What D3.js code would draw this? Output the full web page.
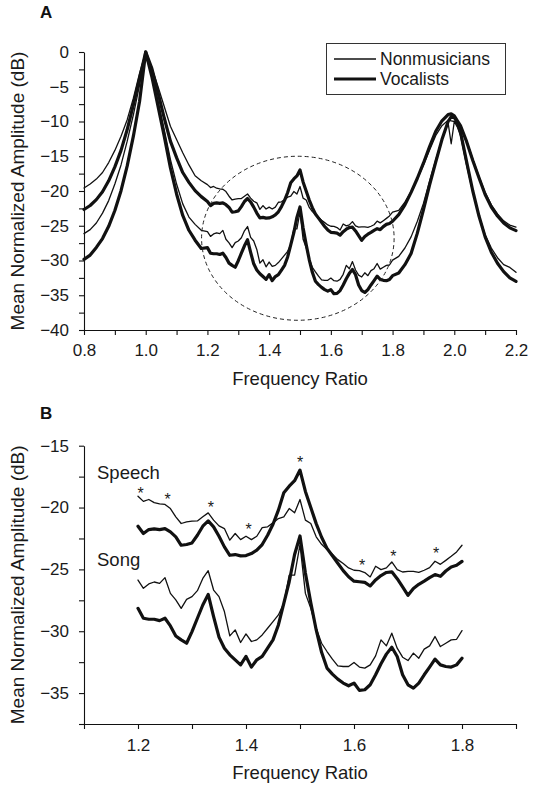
<!DOCTYPE html>
<html><head><meta charset="utf-8">
<script src="https://cdn.jsdelivr.net/npm/d3@7"></script>
<style>
html,body{margin:0;padding:0;background:#fff;}
svg{display:block;font-family:"Liberation Sans",Arial,Helvetica,sans-serif;}
</style></head>
<body>
<svg id="chart" width="533" height="786"></svg>
<script>
// ---------- DATA ----------
// Panel A outer frequencies
const freqLow = [0.80,0.82,0.84,0.86,0.88,0.90,0.92,0.94,0.96,0.98,1.00,1.02,1.04,1.06,1.08,1.10,1.12,1.14,1.16,1.18];
const freqMid = d3.range(61).map(i => +(1.20 + i*0.01).toFixed(2));
const freqHigh = [1.82,1.84,1.86,1.88,1.90,1.92,1.94,1.96,1.98,1.99,2.00,2.01,2.02,2.04,2.06,2.08,2.10,2.12,2.14,2.16,2.18,2.20];

const speechNonLow = [-19.57,-19.0,-18.29,-17.34,-15.91,-14.16,-12.11,-9.74,-6.65,-3.09,0,-2.28,-4.99,-7.84,-10.69,-12.59,-14.49,-16.25,-17.81,-18.53];
const speechVocLow = [-22.66,-22.09,-21.24,-20.1,-18.53,-16.53,-14.16,-11.16,-7.6,-3.8,0,-2.38,-5.84,-9.5,-12.83,-15.2,-17.34,-18.76,-19.95,-20.81];
const songNonLow   = [-26.13,-25.56,-24.6,-23.18,-21.38,-19.0,-16.25,-12.83,-9.03,-4.75,0,-3.09,-7.03,-11.16,-15.44,-19.0,-21.85,-23.75,-24.8,-25.65];
const songVocLow   = [-29.83,-29.22,-28.12,-26.84,-25.08,-22.8,-19.95,-16.39,-12.11,-7.13,0,-3.56,-7.84,-12.11,-16.63,-20.43,-23.52,-25.65,-27.08,-28.27];

const speechNonMid = [-19.08,-19.5,-19.35,-19.6,-19.7,-19.75,-20.08,-20.75,-21.29,-21.16,-21.1,-21.08,-20.75,-20.43,-21.02,-21.48,-21.7,-22.64,-22.1,-22.59,-22.32,-22.59,-22.32,-21.62,-21.56,-21.24,-20.89,-20.75,-20.08,-20.43,-19.35,-21.02,-21.29,-22.37,-22.97,-23.4,-23.78,-24.21,-24.53,-24.88,-25.07,-25.1,-25.26,-25.61,-24.75,-25.02,-24.88,-24.4,-25.02,-25.21,-25.16,-25.16,-25.24,-25.07,-24.86,-24.34,-24.59,-24.27,-23.94,-23.59,-23.05];
const speechVocMid = [-21.51,-22.1,-21.78,-21.72,-21.78,-21.7,-21.97,-22.37,-23.05,-22.99,-22.86,-22.24,-21.51,-21.08,-21.56,-22.32,-23.18,-23.86,-23.8,-23.91,-23.88,-23.72,-23.45,-22.99,-22.24,-21.35,-20.21,-18.81,-18.27,-17.83,-16.97,-18.7,-20.0,-21.3,-22.4,-23.3,-23.9,-24.5,-25.1,-25.6,-25.95,-26.0,-26.05,-26.34,-25.85,-25.5,-25.25,-25.2,-25.75,-26.42,-27.1,-26.55,-26.21,-25.95,-25.67,-25.42,-25.56,-25.13,-24.8,-24.67,-24.35];
const songNonMid   = [-25.86,-26.53,-26.18,-26.02,-26.13,-25.67,-26.94,-27.47,-28.15,-27.42,-27.2,-26.72,-25.73,-25.11,-26.67,-27.2,-28.41,-30.38,-29.89,-30.91,-30.22,-30.83,-30.7,-30.3,-29.76,-29.22,-28.68,-27.74,-25.46,-25.46,-23.0,-26.94,-28.15,-29.76,-30.97,-31.64,-32.26,-32.8,-32.85,-32.85,-32.53,-32.9,-32.98,-32.72,-31.99,-30.7,-31.18,-30.16,-31.37,-32.1,-32.37,-31.77,-32.18,-31.45,-31.18,-30.43,-31.24,-30.97,-30.7,-30.65,-29.95];
const songVocMid   = [-28.15,-28.95,-29.03,-29.03,-29.14,-28.95,-29.57,-30.38,-30.7,-30.97,-30.03,-28.95,-27.88,-27.02,-28.82,-30.48,-31.37,-31.91,-32.31,-32.72,-32.04,-32.9,-32.31,-32.04,-31.37,-30.7,-29.49,-27.74,-26.0,-23.8,-22.3,-25.3,-27.7,-29.9,-31.7,-32.98,-33.47,-33.87,-34.19,-34.41,-34.19,-34.78,-34.73,-34.33,-33.52,-32.63,-31.85,-31.29,-32.04,-33.52,-34.33,-34.6,-34.19,-33.52,-32.9,-32.26,-32.72,-32.85,-32.9,-32.72,-32.18];

const speechNonHigh = [-22.8,-21.6,-20.1,-18.3,-16.3,-14.1,-12.0,-10.6,-9.8,-9.9,-10.0,-10.4,-10.9,-12.8,-15.4,-17.9,-20.2,-22.0,-23.3,-24.3,-24.9,-25.2];
const speechVocHigh = [-23.4,-22.0,-20.2,-18.2,-16.0,-13.6,-11.4,-9.9,-9.0,-8.9,-9.2,-9.9,-10.6,-12.9,-15.6,-18.1,-20.5,-22.3,-23.6,-24.6,-25.3,-25.7];
const songNonHigh   = [-29.4,-28.2,-26.6,-24.4,-21.8,-18.6,-15.5,-12.6,-10.2,-13.2,-10.0,-10.8,-12.0,-16.3,-20.2,-23.5,-26.3,-28.2,-29.6,-30.6,-31.0,-31.7];
const songVocHigh   = [-31.8,-30.6,-29.0,-26.1,-22.7,-19.1,-15.8,-12.6,-10.0,-9.3,-9.4,-10.2,-11.5,-15.8,-20.0,-23.6,-26.6,-28.8,-30.4,-31.6,-32.5,-33.0];

// significance asterisks in panel B (frequency, dB)
const starFreq = [1.205,1.255,1.335,1.405,1.50,1.615,1.673,1.752];
const starDb   = [-18.55,-19.05,-19.75,-21.5,-16.1,-24.4,-23.65,-23.45];

const xTicksA = [0.8,1.0,1.2,1.4,1.6,1.8,2.0,2.2];
const yTicksA = [0,-5,-10,-15,-20,-25,-30,-35,-40];
const xTicksB = [1.2,1.4,1.6,1.8];
const yTicksB = [-15,-20,-25,-30,-35];
const legendLabels = ["Nonmusicians","Vocalists"];

// ---------- DRAW ----------
const svg = d3.select("#chart");
const THIN = 1.3, THICK = 3.2, INK = "#111";

function zip(f, v){ return f.map((d,i)=>[d, v[i]]); }
const full = (lo, mid, hi) => zip(freqLow, lo).concat(zip(freqMid, mid), zip(freqHigh, hi));

const seriesA = [
  {pts: full(speechNonLow, speechNonMid, speechNonHigh), w: THIN},
  {pts: full(songNonLow, songNonMid, songNonHigh), w: THIN},
  {pts: full(speechVocLow, speechVocMid, speechVocHigh), w: THICK},
  {pts: full(songVocLow, songVocMid, songVocHigh), w: THICK}
];
const seriesB = [
  {pts: zip(freqMid, speechNonMid), w: THIN},
  {pts: zip(freqMid, songNonMid), w: THIN},
  {pts: zip(freqMid, speechVocMid), w: THICK},
  {pts: zip(freqMid, songVocMid), w: THICK}
];

function styleAxis(g){
  g.selectAll("path.domain").attr("stroke", INK).attr("stroke-width", 1.1);
  g.selectAll(".tick line").attr("stroke", INK).attr("stroke-width", 1.1);
  g.selectAll(".tick text").attr("fill", "#1a1a1a").style("font-size","17px")
    .style("font-family",'"Liberation Sans",Arial,sans-serif');
}
const fmt1 = d3.format(".1f");
const fmtInt = d3.format("d");

function panel(opts){
  const {x, y, xMinor, xLabels, yMinor, yLabels, series, top, bottom, left, right, xPad} = opts;
  const line = d3.line().x(d=>x(d[0])).y(d=>y(d[1]));

  const gx = svg.append("g").attr("transform", `translate(0,${bottom})`)
    .call(d3.axisBottom(x).tickValues(xMinor).tickSize(5).tickPadding(xPad).tickSizeOuter(0)
      .tickFormat(d => xLabels.some(t=>Math.abs(t-d)<1e-6) ? fmt1(d) : ""));
  styleAxis(gx);
  const gy = svg.append("g").attr("transform", `translate(${left},0)`)
    .call(d3.axisLeft(y).tickValues(yMinor).tickSize(5).tickPadding(10).tickSizeOuter(0)
      .tickFormat(d => yLabels.some(t=>Math.abs(t-d)<1e-6) ? fmtInt(d) : ""));
  styleAxis(gy);

  series.forEach(s => {
    svg.append("path").datum(s.pts).attr("d", line)
      .attr("fill","none").attr("stroke", INK).attr("stroke-width", s.w)
      .attr("stroke-linejoin","round").attr("stroke-linecap","round");
  });

  svg.append("text").attr("x", (left+right)/2).attr("y", bottom + 55)
    .attr("text-anchor","middle").style("font-size","18.5px").attr("fill","#1a1a1a")
    .text("Frequency Ratio");
  const cy = (top+bottom)/2;
  svg.append("text").attr("transform", `translate(24,${cy}) rotate(-90)`)
    .attr("text-anchor","middle").style("font-size","19px").attr("fill","#1a1a1a")
    .text("Mean Normalized Amplitude (dB)");
}

// Panel A
const xA = d3.scaleLinear().domain([0.8,2.2]).range([84,516]);
const yA = d3.scaleLinear().domain([-40,0]).range([330,52]);
panel({x:xA, y:yA,
  xMinor: d3.range(15).map(i=>+(0.8+i*0.1).toFixed(1)), xLabels: xTicksA,
  yMinor: d3.range(17).map(i=>-i*2.5), yLabels: yTicksA,
  series: seriesA, top:52, bottom:330, left:84, right:516, xPad:9});

// dashed ellipse highlighting the region shown in B
svg.append("ellipse")
  .attr("cx", xA(1.493)).attr("cy", yA(-26.8))
  .attr("rx", xA(1.493+0.312)-xA(1.493)).attr("ry", yA(-26.8-11.8)-yA(-26.8))
  .attr("fill","none").attr("stroke","#222").attr("stroke-width",1)
  .attr("stroke-dasharray","4,3");

// legend
const lg = svg.append("g");
lg.append("rect").attr("x",326.5).attr("y",43.5).attr("width",179).attr("height",51)
  .attr("fill","#fff").attr("stroke","#333").attr("stroke-width",1);
[THIN, THICK].forEach((w,i)=>{
  const yy = 59 + i*20;
  lg.append("line").attr("x1",334).attr("x2",376).attr("y1",yy).attr("y2",yy)
    .attr("stroke",INK).attr("stroke-width",w);
  lg.append("text").attr("x",380).attr("y",yy).attr("dy","0.35em")
    .style("font-size","17.5px").attr("fill","#1a1a1a").text(legendLabels[i]);
});

svg.append("text").attr("x",40).attr("y",18).style("font-size","17px")
  .style("font-weight","bold").attr("fill","#111").text("A");

// Panel B
const xB = d3.scaleLinear().domain([1.1,1.9]).range([84,516]);
const yB = d3.scaleLinear().domain([-37.5,-15]).range([724,445.7]);
panel({x:xB, y:yB,
  xMinor: d3.range(9).map(i=>+(1.1+i*0.1).toFixed(1)), xLabels: xTicksB,
  yMinor: d3.range(10).map(i=>-15-i*2.5), yLabels: yTicksB,
  series: seriesB, top:445.7, bottom:724, left:84, right:516, xPad:10});

svg.append("text").attr("x",40).attr("y",419).style("font-size","17px")
  .style("font-weight","bold").attr("fill","#111").text("B");

svg.append("text").attr("x",97).attr("y",yB(-17.2)).attr("dy","0.35em")
  .style("font-size","18.5px").attr("fill","#1a1a1a").text("Speech");
svg.append("text").attr("x",97).attr("y",yB(-24.2)).attr("dy","0.35em")
  .style("font-size","18.5px").attr("fill","#1a1a1a").text("Song");

svg.selectAll("text.star").data(starFreq).enter().append("text").attr("class","star")
  .attr("x", d=>xB(d)).attr("y",(d,i)=>yB(starDb[i]) + 9)
  .attr("text-anchor","middle").style("font-size","16px").attr("fill","#1a1a1a").text("*");
</script>
</body></html>
